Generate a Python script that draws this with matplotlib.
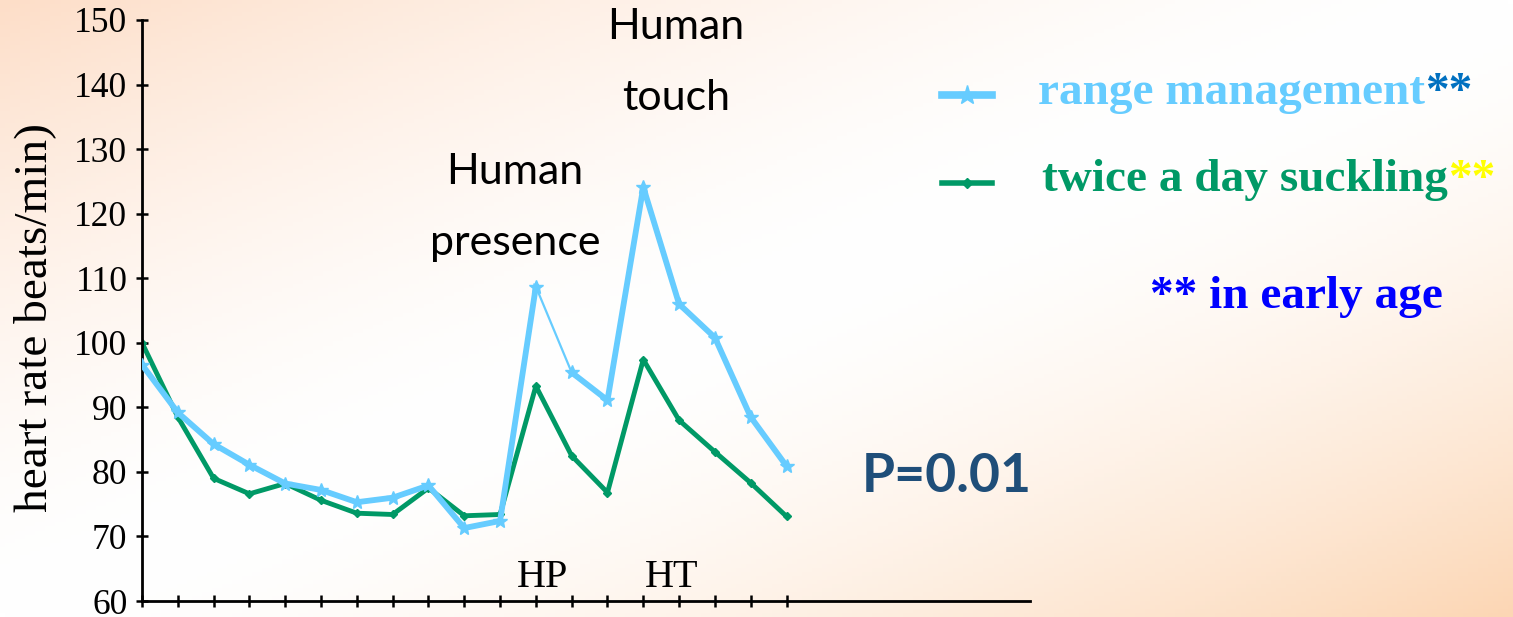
import numpy as np
import matplotlib
matplotlib.use("Agg")
import matplotlib.pyplot as plt
from matplotlib.lines import Line2D

W, H = 1513, 617

# data
x_pos = list(range(19))
range_mgmt = [96.6, 89.2, 84.3, 81.1, 78.2, 77.2, 75.3, 76.0, 77.9, 71.3, 72.4,
              108.7, 95.4, 91.1, 124.1, 106.0, 100.8, 88.5, 80.9]
twice_day = [100.0, 88.5, 79.0, 76.6, 78.2, 75.6, 73.6, 73.4, 77.5, 73.2, 73.4,
             93.3, 82.5, 76.8, 97.4, 88.0, 83.1, 78.3, 73.1]
y_ticks = [60, 70, 80, 90, 100, 110, 120, 130, 140, 150]

BLUE = "#66CCFF"
GREEN = "#009966"
SERIF = "Liberation Serif"
SANS = "Lato"


def fx(px):
    return px / W


def fy(py):
    return 1 - py / H


fig = plt.figure(figsize=(W / 100, H / 100), dpi=100)

# background: peach in top-left and bottom-right corners, white across the middle
bg = fig.add_axes([0, 0, 1, 1], zorder=0)
u, v = np.meshgrid(np.linspace(0, 1, 300), np.linspace(0, 1, 150))
t = (u + v) / 2
d = np.abs(2 * t - 1) ** 1.6
peach_tl = np.array([253, 222, 200]) / 255
peach_br = np.array([252, 214, 180]) / 255
peach = np.where((t < 0.5)[..., None], peach_tl, peach_br)
img = np.ones((150, 300, 3)) + (peach - 1) * d[..., None]
bg.imshow(img, aspect="auto", extent=[0, 1, 0, 1], origin="upper")
bg.axis("off")

left, right, bottom, top = 142, 1030, 601, 20
ax = fig.add_axes([fx(left), fy(bottom), fx(right - left), (bottom - top) / H], zorder=1)
ax.patch.set_alpha(0)

ax.plot(x_pos, twice_day, color=GREEN, lw=3.5, marker="D", ms=4, zorder=2)
ax.plot(x_pos[:12], range_mgmt[:12], color=BLUE, lw=4.2, zorder=3)
ax.plot(x_pos[11:13], range_mgmt[11:13], color=BLUE, lw=1.6, zorder=3)
ax.plot(x_pos[12:], range_mgmt[12:], color=BLUE, lw=4.2, zorder=3)
ax.plot(x_pos, range_mgmt, ls="none", marker="*", ms=10, color=BLUE, zorder=4)

ax.set_xlim(0, 24.8)
ax.set_ylim(60, 150)
ax.set_xticks(x_pos)
ax.set_xticklabels([])
ax.set_yticks(y_ticks)
ax.set_yticklabels([str(v) for v in y_ticks], fontfamily=SERIF, fontsize=25.5)
ax.tick_params(axis="both", direction="inout", length=9, width=1.8, colors="black")
ax.tick_params(axis="y", pad=6)
for s in ["top", "right"]:
    ax.spines[s].set_visible(False)
for s in ["left", "bottom"]:
    ax.spines[s].set_linewidth(2.0)

fig.text(fx(35), fy(318), "heart rate beats/min)", rotation=90, ha="center", va="center",
         fontfamily=SERIF, fontsize=34)

ax.text(11.2, 62.2, "HP", fontfamily=SERIF, fontsize=29, ha="center", va="baseline")
ax.text(14.8, 62.2, "HT", fontfamily=SERIF, fontsize=29, ha="center", va="baseline")

fig.text(fx(515), fy(172), "Human", fontfamily=SANS, fontsize=31, ha="center", va="center")
fig.text(fx(515), fy(243), "presence", fontfamily=SANS, fontsize=31, ha="center", va="center")
fig.text(fx(676), fy(27), "Human", fontfamily=SANS, fontsize=31, ha="center", va="center")
fig.text(fx(676), fy(98), "touch", fontfamily=SANS, fontsize=31, ha="center", va="center")

# legend drawn by hand
for y, col, mk, ms, lw in [(95, BLUE, "*", 14, 5.5), (183, GREEN, "D", 5, 4)]:
    fig.add_artist(Line2D([fx(942), fx(967), fx(992)], [fy(y)] * 3, color=col,
                          lw=lw, marker=mk, ms=ms, markevery=[1],
                          transform=fig.transFigure))

t1 = fig.text(fx(1038), fy(93), "range management", fontfamily=SERIF, fontweight="bold",
              fontsize=34, color=BLUE, ha="left", va="center")
ax.annotate("**", xy=(1, 0), xycoords=t1, ha="left", va="bottom", fontfamily=SERIF,
            fontweight="bold", fontsize=34, color="#0070C0")
t2 = fig.text(fx(1042), fy(180), "twice a day suckling", fontfamily=SERIF, fontweight="bold",
              fontsize=34, color=GREEN, ha="left", va="center")
ax.annotate("**", xy=(1, 0), xycoords=t2, ha="left", va="bottom", fontfamily=SERIF,
            fontweight="bold", fontsize=34, color="#FFFF00")

fig.text(fx(1150), fy(297), "** in early age", fontfamily=SERIF, fontweight="bold",
         fontsize=34, color="#0000FF", ha="left", va="center")

fig.text(fx(862), fy(476), "P=0.01", fontfamily=SANS, fontweight="bold", fontsize=38.5,
         color="#1F4E79", ha="left", va="center")

fig.savefig("out.png", dpi=100)
